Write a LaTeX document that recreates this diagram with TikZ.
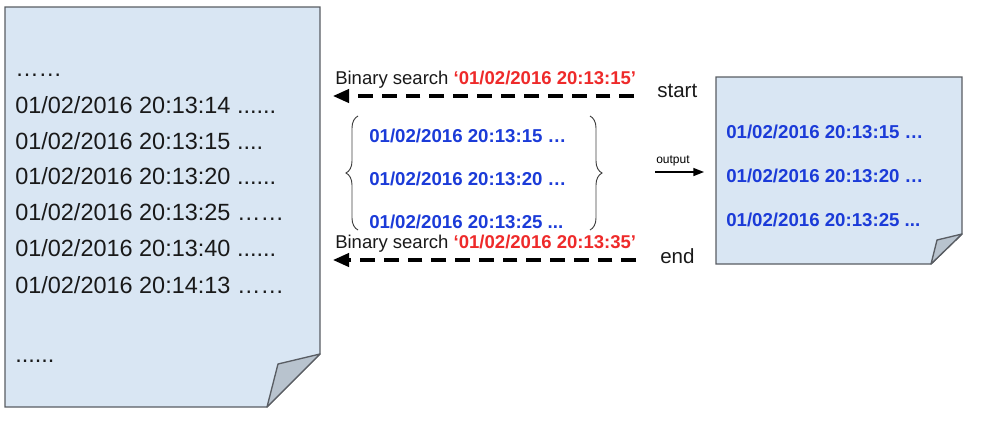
\documentclass[tikz,border=0pt]{standalone}
\usepackage{fontspec}
\setmainfont{Liberation Sans}
\usetikzlibrary{arrows.meta,decorations.pathreplacing}
\definecolor{pagefill}{HTML}{D9E6F3}
\definecolor{foldfill}{HTML}{B8C3CE}
\definecolor{pageline}{HTML}{595D63}
\definecolor{hiblue}{HTML}{1B3BD8}
\definecolor{hired}{HTML}{EE2A2A}
\tikzset{
  page/.style={draw=pageline, fill=pagefill, line width=1pt, line join=miter},
  fold/.style={draw=pageline, fill=foldfill, line width=1pt, line join=round},
  logline/.style={anchor=base west, inner sep=0pt, font=\fontsize{17.6}{20}\selectfont, text=black!90},
  hit/.style={anchor=base west, inner sep=0pt, font=\fontsize{14}{16}\selectfont\bfseries, text=hiblue},
  search/.style={anchor=base west, inner sep=0pt, font=\fontsize{13.9}{16}\selectfont, text=black!90},
  endlabel/.style={anchor=base west, inner sep=0pt, font=\fontsize{15.4}{18}\selectfont, text=black!90},
  dasharrow/.style={line width=2.3pt, dash pattern=on 11pt off 6.8pt, -{Triangle[length=12pt,width=10pt]}},
  bracestyle/.style={draw=black!75, line width=0.7pt, decorate, decoration={brace, amplitude=9pt}}
}
\begin{document}
\begin{tikzpicture}[x=0.75pt, y=-0.75pt]
\useasboundingbox (0,0) rectangle (1003,433);
% left page
\path[page] (5,7) -- (320,7) -- (320,354) -- (267,407) -- (5,407) -- cycle;
\path[fold] (320,354) -- (278,364) -- (267,407) -- cycle;
% right page
\path[page] (716,77) -- (962,77) -- (962,234) -- (931,264) -- (716,264) -- cycle;
\path[fold] (962,234) -- (937,240) -- (931,264) -- cycle;
% left page text
\node[logline] (l0) at (15,76) {……};
\node[logline] (l1) at (15,113.5) {01/02/2016 20:13:14 ......};
\node[logline] (l2) at (15,149) {01/02/2016 20:13:15 ....};
\node[logline] (l3) at (15,184.5) {01/02/2016 20:13:20 ......};
\node[logline] (l4) at (15,220.5) {01/02/2016 20:13:25 ……};
\node[logline] (l5) at (15,256.5) {01/02/2016 20:13:40 ......};
\node[logline] (l6) at (15,293) {01/02/2016 20:14:13 ……};
\node[logline] (l7) at (15,362) {......};
% middle results
\node[hit] (m1) at (369,142) {01/02/2016 20:13:15 …};
\node[hit] (m2) at (369,185) {01/02/2016 20:13:20 …};
\node[hit] (m3) at (369,228) {01/02/2016 20:13:25 ...};
% right page results
\node[hit] (r1) at (726,138) {01/02/2016 20:13:15 …};
\node[hit] (r2) at (726,182) {01/02/2016 20:13:20 …};
\node[hit] (r3) at (726,226) {01/02/2016 20:13:25 ...};
% search labels
\node[search] (s1) at (335,84) {Binary search \textcolor{hired}{\bfseries ‘01/02/2016 20:13:15’}};
\node[search] (s2) at (335,248) {Binary search \textcolor{hired}{\bfseries ‘01/02/2016 20:13:35’}};
\node[endlabel] (start) at (657,97) {start};
\node[endlabel] (end) at (660,263) {end};
\node[anchor=base west, inner sep=0pt, font=\fontsize{9}{11}\selectfont] (out) at (656,163) {output};
% arrows
\coordinate (a1s) at (634,96);
\coordinate (a1e) at (333,96);
\coordinate (a2s) at (636,260);
\coordinate (a2e) at (333,260);
\draw[dasharrow] (a1s) -- (a1e);
\draw[dasharrow] (a2s) -- (a2e);
\coordinate (os) at (655,172);
\coordinate (oe) at (704,172);
\draw[line width=1.1pt, -{Triangle[length=8pt,width=6pt]}] (os) -- (oe);
% braces
\coordinate (bl1) at (358,230);
\coordinate (bl2) at (358,116);
\coordinate (br1) at (590,116);
\coordinate (br2) at (590,230);
\draw[bracestyle] (bl1) -- (bl2);
\draw[bracestyle] (br1) -- (br2);
\end{tikzpicture}
\end{document}
